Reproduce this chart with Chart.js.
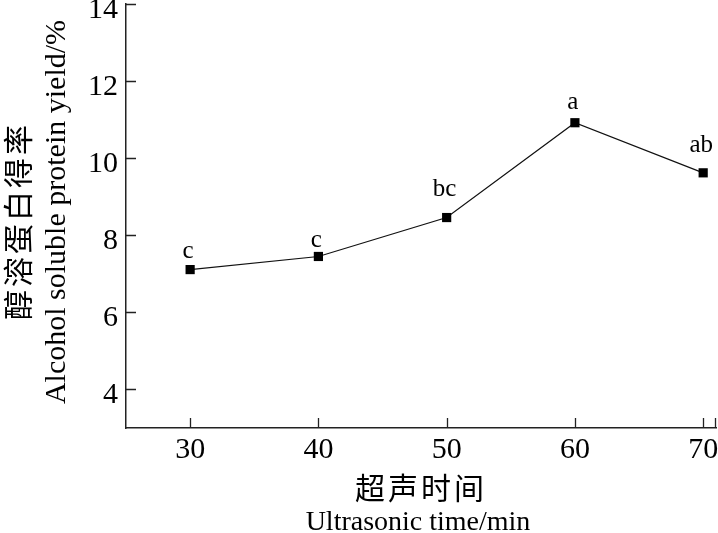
<!DOCTYPE html>
<html>
<head>
<meta charset="utf-8">
<script src="https://cdn.jsdelivr.net/npm/chart.js@4"></script>
<style>
  body { margin: 0; background: #fff; }
  canvas { display: block; }
</style>
</head>
<body>
<canvas id="myChart" width="718" height="533"></canvas>
<script>
const times = [30, 40, 50, 60, 70];
const yieldValues = [7.11, 7.45, 8.46, 10.92, 9.62];
const letters = ["c", "c", "bc", "a", "ab"];
const xTicks = [30, 40, 50, 60, 70];
const yTicks = [4, 6, 8, 10, 12, 14];

const SERIF = "'Liberation Serif', 'Times New Roman', serif";
const CJK = "'Noto Sans CJK SC', sans-serif";

// ticks point inward, labels and titles drawn by hand
const axisDecor = {
  id: "axisDecor",
  afterDraw(chart) {
    const ctx = chart.ctx;
    const x = chart.scales.x;
    const y = chart.scales.y;
    const area = chart.chartArea;
    ctx.save();
    ctx.strokeStyle = "#222";
    ctx.lineWidth = 1.3;
    ctx.beginPath();
    xTicks.forEach(function (v) {
      const px = Math.round(x.getPixelForValue(v)) + 0.5;
      ctx.moveTo(px, area.bottom);
      ctx.lineTo(px, area.bottom - 10);
    });
    ctx.moveTo(area.right - 0.5, area.bottom);
    ctx.lineTo(area.right - 0.5, area.bottom - 10);
    yTicks.forEach(function (v) {
      const py = Math.round(y.getPixelForValue(v)) + 0.5;
      ctx.moveTo(area.left, py);
      ctx.lineTo(area.left + 10, py);
    });
    ctx.stroke();

    ctx.fillStyle = "#000";
    ctx.font = "30px " + SERIF;
    ctx.textAlign = "center";
    ctx.textBaseline = "alphabetic";
    xTicks.forEach(function (v) {
      ctx.fillText(String(v), x.getPixelForValue(v), area.bottom + 30);
    });
    ctx.textAlign = "right";
    ctx.textBaseline = "middle";
    yTicks.forEach(function (v) {
      ctx.fillText(String(v), area.left - 8, y.getPixelForValue(v) + 6);
    });

    // x title
    ctx.textAlign = "center";
    ctx.font = "30px " + CJK;
    ctx.letterSpacing = "3px";
    ctx.fillText("超声时间", 421, 488);
    ctx.letterSpacing = "0px";
    ctx.textBaseline = "alphabetic";
    ctx.font = "28px " + SERIF;
    ctx.fillText("Ultrasonic time/min", 418, 530);

    // y title
    ctx.save();
    ctx.translate(18, 221);
    ctx.rotate(-Math.PI / 2);
    ctx.font = "30px " + CJK;
    ctx.letterSpacing = "3px";
    ctx.textBaseline = "middle";
    ctx.fillText("醇溶蛋白得率", 0, 0);
    ctx.restore();

    ctx.save();
    ctx.translate(65, 212);
    ctx.rotate(-Math.PI / 2);
    ctx.font = "30px " + SERIF;
    ctx.textBaseline = "alphabetic";
    ctx.fillText("Alcohol soluble protein yield/%", 0, 0);
    ctx.restore();

    // significance letters
    const meta = chart.getDatasetMeta(0);
    const lift = [12, 9, 22, 14, 21];
    ctx.font = "25px " + SERIF;
    ctx.textAlign = "center";
    ctx.textBaseline = "alphabetic";
    meta.data.forEach(function (pt, i) {
      ctx.fillText(letters[i], pt.x - 2, pt.y - lift[i]);
    });
    ctx.restore();
  }
};

const data = {
  datasets: [
    {
      data: times.map(function (t, i) { return { x: t, y: yieldValues[i] }; }),
      borderColor: "#111",
      borderWidth: 1.2,
      backgroundColor: "#000",
      pointStyle: "rect",
      pointRadius: 6.5,
      pointBorderWidth: 0,
      tension: 0,
      clip: false,
    },
  ],
};

const options = {
  responsive: false,
  animation: false,
  layout: { autoPadding: false, padding: { left: 126, right: 2, top: 4, bottom: 105 } },
  plugins: {
    legend: { display: false },
    tooltip: { enabled: false },
  },
  scales: {
    x: {
      type: "linear",
      min: 25,
      max: 71,
      grid: { display: false, drawTicks: false },
      ticks: { display: false },
      border: { display: true, color: "#222", width: 1.5 },
    },
    y: {
      min: 3,
      max: 14,
      grid: { display: false, drawTicks: false },
      ticks: { display: false },
      border: { display: true, color: "#222", width: 1.5 },
    },
  },
};

new Chart("myChart", {
  type: "line",
  data: data,
  options: options,
  plugins: [axisDecor],
});
</script>
</body>
</html>
